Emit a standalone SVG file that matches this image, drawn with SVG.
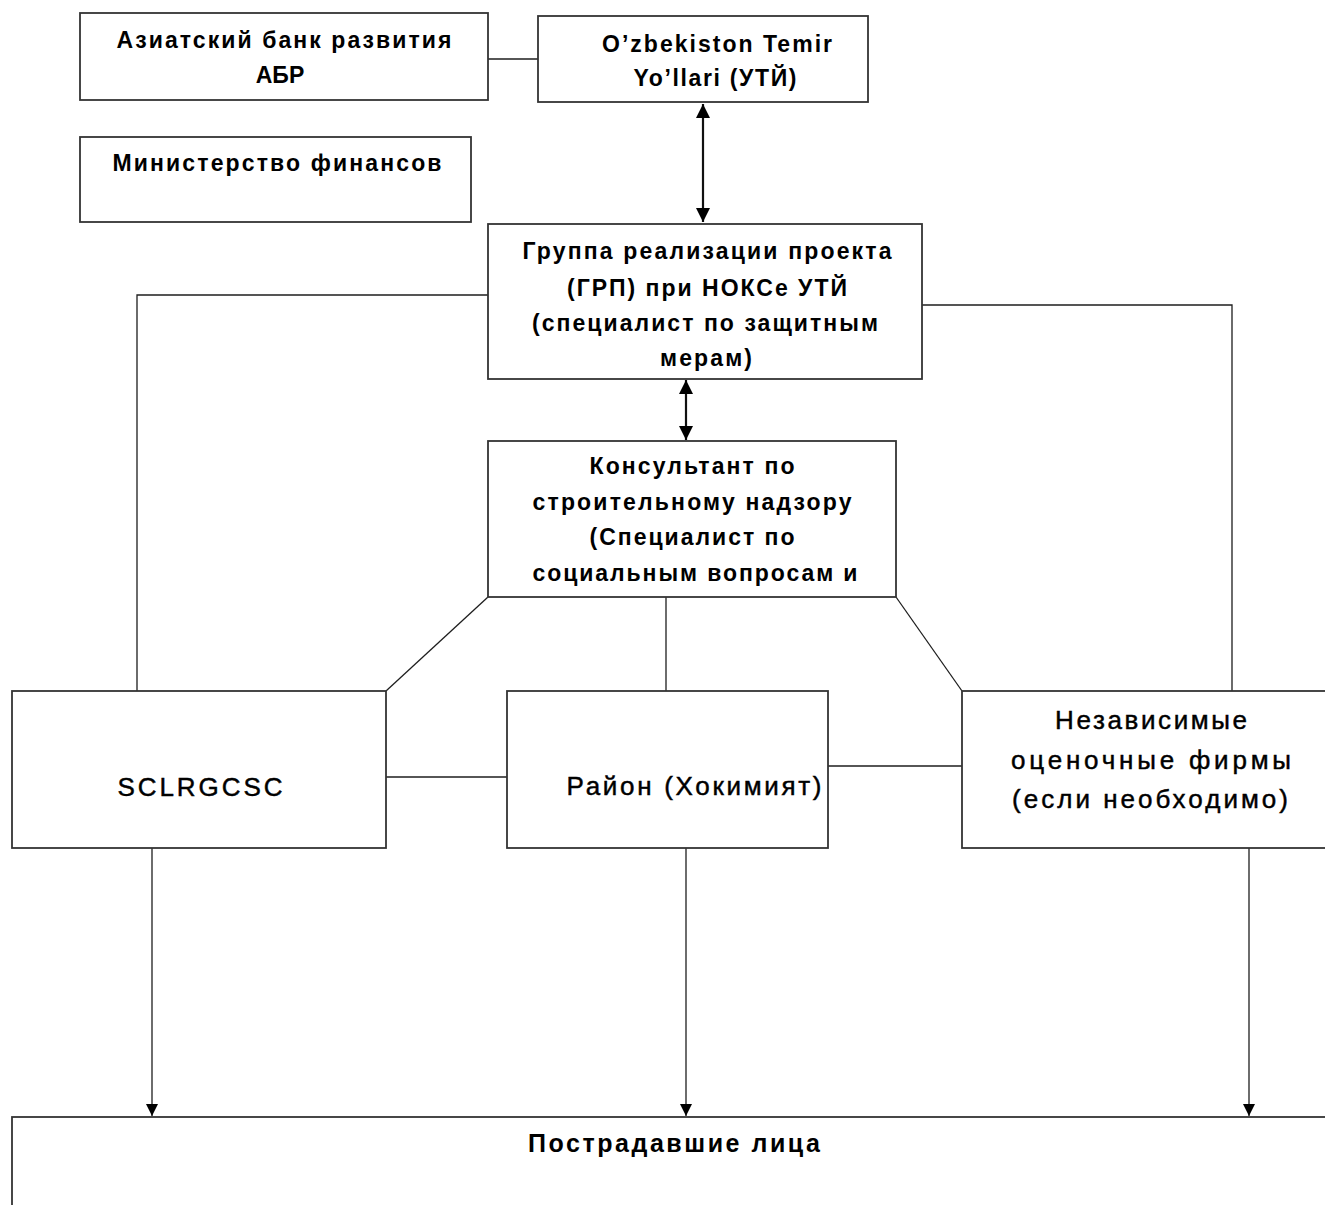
<svg xmlns="http://www.w3.org/2000/svg" width="1325" height="1205" viewBox="0 0 1325 1205">
  <style>
    .box { fill: #ffffff; stroke: #333333; stroke-width: 1.8; }
    .conn { fill: none; stroke: #1e1e1e; stroke-width: 1.3; }
    .dbl { fill: none; stroke: #111111; stroke-width: 2.2; }
    .b { font-family: "Liberation Sans", Arial, sans-serif; font-weight: bold; font-size: 23px; fill: #000; }
    .r { font-family: "Liberation Sans", Arial, sans-serif; font-size: 26px; fill: #000; stroke: #000; stroke-width: 0.45; }
  </style>
  <defs>
    <marker id="ah" viewBox="0 0 10 10" refX="10" refY="5" markerWidth="14" markerHeight="12" markerUnits="userSpaceOnUse" orient="auto-start-reverse">
      <path d="M0,0 L10,5 L0,10 z" fill="#000"/>
    </marker>
    <marker id="ad" viewBox="0 0 10 10" refX="10" refY="5" markerWidth="15" markerHeight="14" markerUnits="userSpaceOnUse" orient="auto-start-reverse">
      <path d="M0,0 L10,5 L0,10 z" fill="#000"/>
    </marker>
  </defs>

  <g id="connectors">
    <line class="conn" x1="488" y1="59" x2="538" y2="59"/>
    <line class="dbl" x1="703" y1="104" x2="703" y2="222" marker-start="url(#ad)" marker-end="url(#ad)"/>
    <line class="dbl" x1="686" y1="380" x2="686" y2="440" marker-start="url(#ad)" marker-end="url(#ad)"/>
    <polyline class="conn" points="488,295 137,295 137,691"/>
    <polyline class="conn" points="896,305 1232,305 1232,691"/>
    <line class="conn" x1="488" y1="597" x2="386" y2="691"/>
    <line class="conn" x1="666" y1="597" x2="666" y2="691"/>
    <line class="conn" x1="896" y1="597" x2="962" y2="691"/>
    <line class="conn" x1="386" y1="777" x2="507" y2="777"/>
    <line class="conn" x1="828" y1="766" x2="962" y2="766"/>
    <line class="conn" x1="152" y1="848" x2="152" y2="1116" marker-end="url(#ah)"/>
    <line class="conn" x1="686" y1="848" x2="686" y2="1116" marker-end="url(#ah)"/>
    <line class="conn" x1="1249" y1="848" x2="1249" y2="1116" marker-end="url(#ah)"/>
  </g>

  <g id="adb">
    <rect class="box" x="80" y="13" width="408" height="87"/>
    <text class="b" x="284" y="48" text-anchor="middle" textLength="335" lengthAdjust="spacing">Азиатский банк развития</text>
    <text class="b" x="280" y="83" text-anchor="middle">АБР</text>
  </g>

  <g id="uty">
    <rect class="box" x="538" y="16" width="330" height="86"/>
    <text class="b" x="717" y="52" text-anchor="middle" textLength="230" lengthAdjust="spacing">O’zbekiston Temir</text>
    <text class="b" x="715" y="86" text-anchor="middle" textLength="163" lengthAdjust="spacing">Yo’llari (УТЙ)</text>
  </g>

  <g id="minfin">
    <rect class="box" x="80" y="137" width="391" height="85"/>
    <text class="b" x="277" y="171" text-anchor="middle" textLength="329" lengthAdjust="spacing">Министерство финансов</text>
  </g>

  <g id="grp">
    <rect class="box" x="488" y="224" width="434" height="155"/>
    <text class="b" x="707" y="259" text-anchor="middle" textLength="369" lengthAdjust="spacing">Группа реализации проекта</text>
    <text class="b" x="707" y="296" text-anchor="middle" textLength="280" lengthAdjust="spacing">(ГРП) при НОКСе УТЙ</text>
    <text class="b" x="705" y="331" text-anchor="middle" textLength="346" lengthAdjust="spacing">(специалист по защитным</text>
    <text class="b" x="706" y="366" text-anchor="middle" textLength="92" lengthAdjust="spacing">мерам)</text>
  </g>

  <g id="consultant">
    <rect class="box" x="488" y="441" width="408" height="156"/>
    <text class="b" x="692" y="474" text-anchor="middle" textLength="205" lengthAdjust="spacing">Консультант по</text>
    <text class="b" x="692" y="510" text-anchor="middle" textLength="319" lengthAdjust="spacing">строительному надзору</text>
    <text class="b" x="692" y="545" text-anchor="middle" textLength="205" lengthAdjust="spacing">(Специалист по</text>
    <text class="b" x="695" y="581" text-anchor="middle" textLength="325" lengthAdjust="spacing">социальным вопросам и</text>
  </g>

  <g id="sclrgcsc">
    <rect class="box" x="12" y="691" width="374" height="157"/>
    <text class="r" x="200" y="796" text-anchor="middle" textLength="165" lengthAdjust="spacing">SCLRGCSC</text>
  </g>

  <g id="rayon">
    <rect class="box" x="507" y="691" width="321" height="157"/>
    <text class="r" x="694" y="795" text-anchor="middle" textLength="255" lengthAdjust="spacing">Район (Хокимият)</text>
  </g>

  <g id="independent">
    <rect class="box" x="962" y="691" width="375" height="157"/>
    <text class="r" x="1151" y="729" text-anchor="middle" textLength="192" lengthAdjust="spacing">Независимые</text>
    <text class="r" x="1151" y="769" text-anchor="middle" textLength="280" lengthAdjust="spacing">оценочные фирмы</text>
    <text class="r" x="1150" y="808" text-anchor="middle" textLength="276" lengthAdjust="spacing">(если необходимо)</text>
  </g>

  <g id="affected">
    <rect class="box" x="12" y="1117" width="1325" height="100"/>
    <text class="b" x="674" y="1152" text-anchor="middle" textLength="292" lengthAdjust="spacing" style="font-size:25px">Пострадавшие лица</text>
  </g>
</svg>
